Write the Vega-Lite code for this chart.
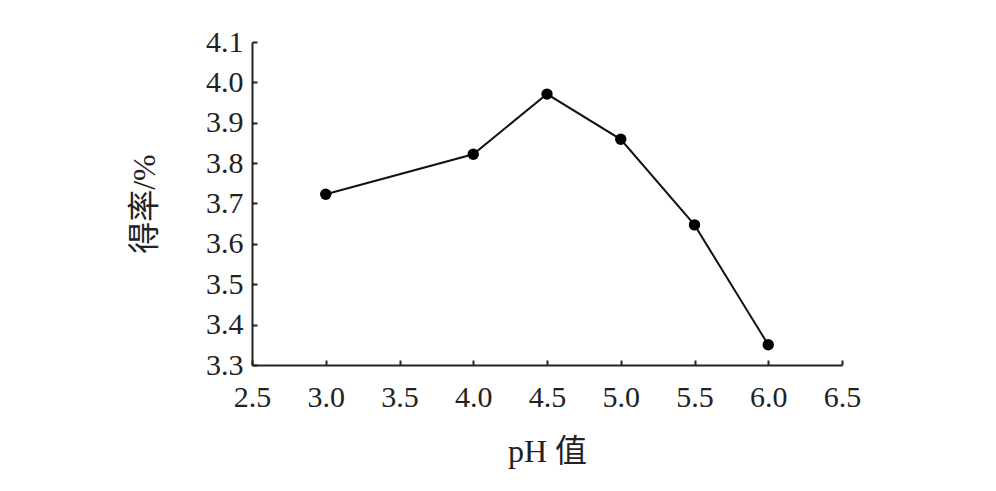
{
  "$schema": "https://vega.github.io/schema/vega-lite/v6.json",
  "autosize": "none",
  "width": 590,
  "height": 323,
  "padding": {"left": 252, "top": 42, "right": 154, "bottom": 126},
  "background": "white",
  "config": {
    "view": {"stroke": null},
    "font": "Liberation Serif",
    "axis": {
      "grid": false,
      "domainColor": "#222",
      "domainWidth": 2,
      "tickColor": "#222",
      "tickWidth": 2,
      "tickSize": -5,
      "labelFont": "Liberation Serif",
      "labelFontSize": 30,
      "labelColor": "#222",
      "titleFont": "Liberation Serif, Noto Sans CJK SC",
      "titleFontSize": 32,
      "titleFontWeight": "normal",
      "titleColor": "#222"
    }
  },
  "data": {
    "values": [
      {"pH": 3.0, "rate": 3.723},
      {"pH": 4.0, "rate": 3.822},
      {"pH": 4.5, "rate": 3.971},
      {"pH": 5.0, "rate": 3.859},
      {"pH": 5.5, "rate": 3.647},
      {"pH": 6.0, "rate": 3.35}
    ]
  },
  "encoding": {
    "x": {
      "field": "pH",
      "type": "quantitative",
      "scale": {"domain": [2.5, 6.5], "nice": false, "zero": false},
      "axis": {"values": [2.5, 3.0, 3.5, 4.0, 4.5, 5.0, 5.5, 6.0, 6.5], "format": ".1f", "labelPadding": 22, "title": "pH 值", "titlePadding": 24, "labelFlush": false}
    },
    "y": {
      "field": "rate",
      "type": "quantitative",
      "scale": {"domain": [3.3, 4.1], "nice": false, "zero": false},
      "axis": {"values": [3.3, 3.4, 3.5, 3.6, 3.7, 3.8, 3.9, 4.0, 4.1], "format": ".1f", "labelPadding": 14, "title": "得率/%", "titlePadding": 44, "labelFlush": false}
    }
  },
  "layer": [
    {"mark": {"type": "line", "color": "#111", "strokeWidth": 2}},
    {"mark": {"type": "point", "filled": true, "color": "#000", "size": 130, "opacity": 1}}
  ]
}
